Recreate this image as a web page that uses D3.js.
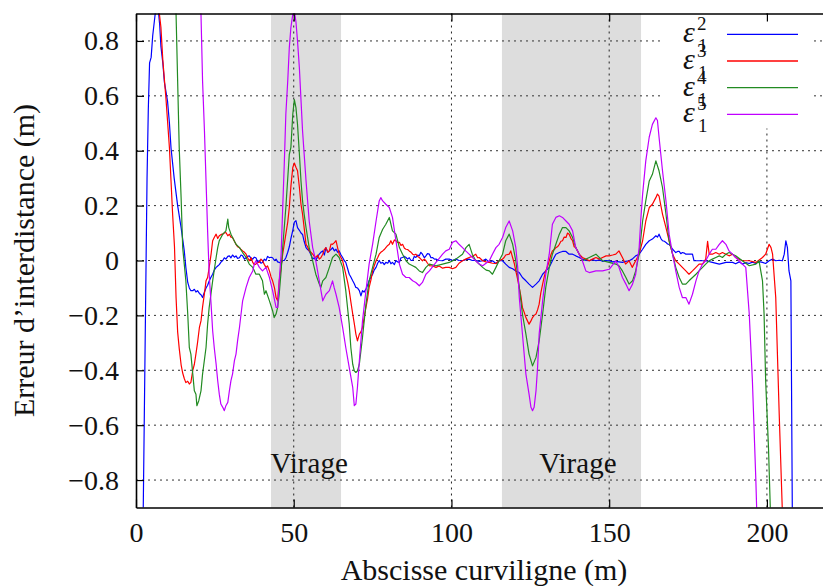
<!DOCTYPE html>
<html>
<head>
<meta charset="utf-8">
<script src="https://cdn.jsdelivr.net/npm/d3@7"></script>
<style>
  body { margin: 0; background: #fff; }
  text { font-family: "Liberation Serif", "DejaVu Serif", serif; fill: #111; }
</style>
</head>
<body>
<div id="chart"></div>
<script>
// abscisse curviligne (m) / erreur d'interdistance (m)
const eps2 = [
  [2.2,-1.0],[2.6,-0.6],[3.0,-0.2],[3.5,0.3],[3.9,0.55],[4.3,0.72],[4.8,0.74],[5.3,0.82],[5.8,0.87],[6.4,0.93],
  [7.0,0.92],[7.5,0.86],[7.9,0.78],[8.5,0.72],[9.0,0.65],[10.0,0.58],[10.6,0.5],[11.1,0.41],[12.1,0.3],[13.2,0.2],
  [14.3,0.12],[15.3,0.035],[15.8,-0.025],[16.4,-0.08],[16.9,-0.1],[17.4,-0.11],[18.0,-0.11],[18.5,-0.105],[19.0,-0.115],
  [19.5,-0.11],[20.1,-0.12],[20.6,-0.125],[21.1,-0.135],[21.7,-0.115],[22.2,-0.1],[22.7,-0.09],[23.2,-0.075],[23.8,-0.06],
  [24.3,-0.05],[24.8,-0.035],[25.4,-0.025],[25.9,-0.02],[26.4,-0.015],[27.0,-0.005],[27.5,0.0],[28.0,0.01],[28.5,0.005],
  [29.1,0.015],[29.6,0.017],[30.1,0.01],[30.6,0.02],[31.2,0.012],[31.7,0.017],[32.2,0.008],[32.8,0.01],[33.3,0.02],
  [33.8,0.017],[34.4,0.005],[34.9,0.01],[35.4,0.015],[35.9,0.017],[36.5,0.008],[37.0,0.005],[37.5,0.012],[38.0,0.01],
  [38.6,-0.005],[39.1,0.0],[39.6,-0.01],[40.1,-0.007],[40.7,0.005],[41.2,0.0],[41.7,0.015],[42.3,0.01],[42.8,0.012],
  [43.3,0.01],[43.9,0.0],[44.4,0.005],[44.9,-0.005],[45.4,-0.007],[46.0,-0.01],[46.5,0.0],[47.0,0.0],[47.5,0.01],
  [48.1,0.03],[48.6,0.05],[49.1,0.08],[49.7,0.11],[50.2,0.14],[50.7,0.145],[51.2,0.12],[51.8,0.11],[52.3,0.1],
  [52.8,0.095],[53.3,0.07],[53.9,0.047],[54.4,0.04],[54.9,0.035],[55.5,0.02],[56.0,0.005],[56.5,0.01],[57.0,0.0],
  [57.6,0.015],[58.1,0.023],[58.6,0.03],[59.2,0.035],[59.7,0.02],[60.2,0.047],[60.8,0.03],[61.3,0.035],[61.8,0.04],
  [62.3,0.047],[62.9,0.035],[63.4,0.041],[63.9,0.03],[64.4,0.035],[65.0,0.02],[65.5,0.011],[66.0,0.0],[66.5,-0.007],
  [67.1,-0.03],[67.6,-0.05],[68.1,-0.06],[68.7,-0.074],[69.2,-0.085],[69.7,-0.098],[70.2,-0.1],[70.8,-0.11],[71.3,-0.129],
  [71.8,-0.11],[72.3,-0.115],[72.9,-0.104],[73.4,-0.09],[73.9,-0.074],[74.5,-0.06],[75.0,-0.05],[75.5,-0.035],[76.1,-0.025],
  [76.6,-0.01],[77.1,0.0],[77.6,-0.01],[78.2,-0.007],[78.7,-0.015],[79.2,-0.007],[79.8,-0.01],[80.3,0.0],[80.8,-0.012],
  [81.3,-0.007],[81.9,-0.015],[82.4,0.0],[82.9,-0.005],[83.5,-0.007],[84.0,0.01],[84.5,0.011],[85.1,0.015],[85.6,0.011],
  [86.1,0.005],[86.6,0.01],[87.2,0.0],[87.7,0.0],[88.2,0.015],[88.7,0.011],[89.3,0.02],[89.8,0.017],[90.3,0.03],
  [90.8,0.023],[91.4,0.01],[91.9,0.017],[92.4,0.025],[93.0,0.023],[93.5,0.01],[94.0,0.011],[94.6,0.005],[95.1,0.005],
  [96.1,0.0],[97.2,-0.001],[98.2,0.005],[99.3,0.005],[100.3,0.0],[101.4,0.005],[102.4,0.0],[103.5,-0.001],[104.5,0.003],
  [105.6,0.005],[106.6,0.0],[107.7,0.001],[108.8,-0.003],[109.9,-0.001],[110.9,0.005],[112.0,-0.007],[113.0,-0.001],
  [114.1,-0.011],[115.1,-0.001],[116.2,-0.001],[117.2,-0.013],[118.3,-0.025],[119.4,-0.03],[120.4,-0.038],[121.5,-0.044],
  [122.5,-0.062],[123.6,-0.074],[124.6,-0.086],[125.7,-0.098],[126.8,-0.086],[127.8,-0.074],[128.9,-0.05],[129.9,-0.038],
  [131.0,-0.025],[132.0,-0.001],[133.1,0.023],[134.2,0.029],[135.2,0.033],[136.3,0.033],[137.3,0.023],[138.4,0.023],
  [139.4,0.017],[140.5,0.011],[141.5,0.005],[142.6,0.0],[143.7,-0.001],[144.7,0.003],[145.8,-0.001],[146.9,0.002],
  [147.9,-0.003],[149.0,0.0],[150.0,-0.001],[151.1,-0.005],[152.1,-0.003],[153.1,-0.005],[154.2,-0.007],[155.2,-0.003],
  [156.3,-0.001],[157.3,0.005],[158.4,0.017],[159.5,0.023],[160.6,0.041],[161.6,0.059],[162.7,0.072],[163.7,0.078],
  [164.8,0.09],[165.3,0.085],[165.8,0.096],[166.4,0.08],[166.9,0.072],[167.5,0.07],[168.0,0.066],[168.5,0.06],
  [169.0,0.059],[169.6,0.05],[170.1,0.041],[170.6,0.035],[171.1,0.029],[171.7,0.033],[172.2,0.033],[172.7,0.025],
  [173.2,0.029],[173.8,0.027],[174.3,0.023],[175.3,0.023],[176.4,0.023],[176.9,-0.001],[178.5,-0.001],[180.6,-0.001],
  [182.7,-0.007],[184.9,-0.013],[187.0,-0.007],[189.1,-0.007],[190.1,-0.012],[191.2,-0.005],[192.2,-0.013],[193.3,-0.008],
  [194.4,-0.011],[195.4,-0.006],[196.5,-0.011],[197.5,-0.004],[198.6,-0.007],[199.6,-0.011],[200.7,-0.001],[201.8,0.005],
  [202.8,-0.001],[203.9,0.001],[204.9,-0.001],[205.5,0.023],[206.0,0.072],[206.5,0.047],[207.0,-0.038],[207.6,-0.074],
  [208.1,-1.0]
];

const eps3 = [
  [6.8,1.0],[7.4,0.9],[7.9,0.85],[8.5,0.73],[9.5,0.59],[10.6,0.41],[11.6,0.17],[12.2,0.05],[12.7,-0.135],[13.2,-0.26],
  [13.7,-0.32],[14.3,-0.38],[14.8,-0.41],[15.3,-0.43],[15.8,-0.445],[16.4,-0.44],[16.9,-0.45],[17.4,-0.444],[18.0,-0.4],
  [18.5,-0.378],[19.0,-0.34],[19.5,-0.3],[20.1,-0.244],[20.6,-0.22],[21.1,-0.17],[21.7,-0.12],[22.2,-0.074],[22.7,-0.062],
  [23.2,-0.025],[23.8,0.023],[24.3,0.072],[24.8,0.084],[25.4,0.096],[25.9,0.08],[26.4,0.09],[27.0,0.095],[27.5,0.096],
  [28.0,0.1],[28.5,0.102],[29.1,0.09],[29.6,0.096],[30.1,0.085],[30.6,0.084],[31.2,0.07],[31.7,0.059],[32.2,0.05],
  [32.8,0.047],[33.3,0.04],[33.8,0.035],[34.4,0.03],[34.9,0.023],[35.4,0.01],[35.9,-0.001],[36.5,0.01],[37.0,-0.007],
  [37.5,-0.015],[38.0,-0.013],[38.6,-0.007],[39.1,-0.007],[39.6,0.005],[40.1,-0.001],[40.7,-0.015],[41.2,-0.025],
  [41.7,-0.02],[42.3,-0.038],[42.8,-0.06],[43.3,-0.074],[43.9,-0.1],[44.4,-0.135],[44.9,-0.147],[45.4,-0.074],
  [46.0,-0.025],[46.5,0.023],[47.0,0.06],[47.5,0.096],[48.1,0.14],[48.6,0.193],[49.1,0.27],[49.7,0.339],[50.2,0.355],
  [50.7,0.34],[51.2,0.327],[51.8,0.266],[52.3,0.205],[52.8,0.169],[53.3,0.12],[53.9,0.059],[54.4,0.05],[54.9,0.035],
  [55.5,0.03],[56.0,0.023],[56.5,0.015],[57.0,0.011],[57.6,0.02],[58.1,0.005],[58.6,0.01],[59.2,0.023],[59.7,0.04],
  [60.2,0.047],[60.8,0.03],[61.3,0.035],[61.8,0.06],[62.3,0.059],[62.9,0.065],[63.4,0.072],[63.9,0.047],[64.4,0.023],
  [65.0,0.01],[65.5,-0.001],[66.0,-0.025],[66.5,-0.05],[67.1,-0.08],[67.6,-0.11],[68.1,-0.15],[68.7,-0.195],[69.2,-0.23],
  [69.7,-0.268],[70.2,-0.293],[70.8,-0.268],[71.3,-0.26],[71.8,-0.244],[72.3,-0.21],[72.9,-0.171],[73.4,-0.14],
  [73.9,-0.098],[74.5,-0.07],[75.0,-0.038],[75.5,-0.02],[76.1,-0.001],[76.6,0.01],[77.1,0.023],[77.6,0.03],[78.2,0.035],
  [78.7,0.04],[79.2,0.047],[79.8,0.055],[80.3,0.059],[80.8,0.072],[81.3,0.059],[81.9,0.075],[82.4,0.072],[82.9,0.066],
  [83.5,0.066],[84.0,0.055],[84.5,0.059],[85.1,0.045],[85.6,0.041],[86.1,0.04],[86.6,0.035],[87.2,0.03],[87.7,0.023],
  [88.2,0.02],[88.7,0.023],[89.3,0.015],[89.8,0.011],[90.3,0.005],[90.8,-0.001],[91.4,0.005],[91.9,-0.001],[92.4,-0.01],
  [93.0,-0.019],[94.0,-0.02],[95.1,-0.025],[96.1,-0.02],[97.2,-0.028],[98.2,-0.025],[99.3,-0.025],[100.3,-0.03],
  [101.4,-0.025],[102.4,-0.01],[103.5,-0.001],[104.5,0.005],[105.6,0.011],[106.6,0.015],[107.7,0.023],[108.3,0.01],
  [108.8,0.011],[109.9,-0.001],[110.9,-0.005],[112.0,-0.007],[113.0,-0.01],[114.1,-0.011],[115.1,-0.001],[116.2,0.005],
  [116.7,0.011],[117.2,0.02],[118.3,0.023],[118.8,0.035],[119.4,0.01],[119.9,-0.01],[120.4,-0.038],[121.0,-0.07],
  [121.5,-0.1],[122.0,-0.13],[122.5,-0.171],[123.1,-0.19],[123.6,-0.208],[124.1,-0.22],[124.6,-0.232],[125.2,-0.22],
  [125.7,-0.208],[126.2,-0.2],[126.8,-0.195],[127.3,-0.18],[127.8,-0.159],[128.3,-0.12],[128.9,-0.086],[129.4,-0.06],
  [129.9,-0.038],[130.5,-0.02],[131.0,-0.001],[131.5,0.02],[132.0,0.035],[132.6,0.04],[133.1,0.047],[133.6,0.05],
  [134.2,0.059],[134.7,0.07],[135.2,0.072],[135.7,0.085],[136.3,0.084],[136.8,0.1],[137.3,0.096],[137.9,0.08],
  [138.4,0.072],[138.9,0.05],[139.4,0.047],[140.0,0.035],[140.5,0.023],[141.5,0.011],[142.6,0.005],[143.7,-0.001],
  [144.7,0.005],[145.8,0.011],[146.9,0.005],[147.9,0.011],[149.0,0.017],[150.0,0.017],[151.1,0.02],[152.1,0.023],
  [153.1,0.035],[154.2,0.011],[155.2,-0.013],[156.3,-0.001],[157.3,-0.025],[158.4,-0.001],[159.5,0.023],[160.6,0.072],
  [161.6,0.144],[162.7,0.193],[163.7,0.205],[164.8,0.229],[165.3,0.242],[165.8,0.235],[166.9,0.169],[168.0,0.12],
  [169.0,0.072],[170.1,0.023],[171.1,-0.001],[172.2,-0.013],[173.2,-0.025],[174.3,-0.038],[175.3,-0.05],[176.4,-0.038],
  [177.5,-0.025],[178.5,-0.013],[179.6,-0.013],[180.6,0.005],[181.2,0.07],[181.7,0.023],[182.7,0.023],[183.8,0.029],
  [184.9,0.023],[185.9,0.029],[187.0,0.023],[188.0,0.017],[189.1,0.023],[190.1,0.011],[192.2,-0.001],[194.4,-0.001],
  [196.5,-0.007],[198.6,0.011],[199.6,0.023],[200.7,0.059],[201.3,0.047],[201.8,0.023],[202.8,-0.135],[203.9,-0.56],
  [205.0,-0.95],[205.5,-1.0]
];

const eps4 = [
  [12.3,1.0],[12.7,0.897],[13.2,0.654],[13.7,0.412],[14.3,0.229],[14.8,0.047],[15.3,-0.013],[15.8,-0.074],[16.4,-0.195],
  [16.9,-0.317],[17.4,-0.341],[18.0,-0.414],[18.5,-0.475],[19.0,-0.487],[19.3,-0.529],[19.9,-0.511],[20.6,-0.475],
  [21.1,-0.414],[22.2,-0.317],[22.7,-0.232],[23.2,-0.171],[24.3,-0.074],[25.4,0.011],[25.9,0.047],[26.4,0.072],
  [27.5,0.096],[28.5,0.108],[29.1,0.151],[29.4,0.12],[30.1,0.096],[30.6,0.084],[31.7,0.059],[32.8,0.047],[33.8,0.029],
  [34.9,0.011],[35.9,-0.013],[37.0,-0.025],[38.0,-0.05],[39.1,-0.05],[40.1,-0.074],[40.7,-0.123],[41.2,-0.11],
  [42.3,-0.147],[43.3,-0.183],[43.8,-0.208],[44.4,-0.195],[44.9,-0.171],[45.4,-0.123],[46.0,-0.038],[46.5,0.047],
  [47.5,0.193],[48.6,0.387],[49.1,0.412],[49.7,0.533],[50.2,0.586],[50.7,0.557],[51.2,0.496],[51.8,0.387],[52.3,0.29],
  [52.8,0.217],[53.3,0.169],[53.9,0.12],[54.9,0.047],[56.0,-0.001],[57.0,-0.05],[58.1,-0.086],[58.6,-0.098],[59.2,-0.074],
  [60.2,-0.062],[61.3,-0.025],[62.3,0.011],[63.4,0.023],[64.4,0.011],[65.5,-0.025],[66.5,-0.11],[67.6,-0.232],
  [68.1,-0.317],[68.7,-0.378],[69.2,-0.402],[69.7,-0.408],[70.2,-0.402],[70.8,-0.378],[71.8,-0.28],[72.9,-0.159],
  [73.9,-0.074],[75.0,-0.025],[76.1,0.023],[77.1,0.084],[78.2,0.114],[79.2,0.132],[80.3,0.157],[81.3,0.108],[82.4,0.096],
  [83.5,0.047],[84.5,0.023],[85.6,-0.001],[86.6,-0.013],[87.7,-0.019],[88.7,-0.025],[89.8,-0.038],[90.8,-0.044],
  [91.9,-0.025],[93.0,-0.013],[95.1,-0.019],[97.2,-0.013],[99.3,-0.007],[101.4,0.005],[103.5,0.023],[104.6,0.047],
  [105.6,0.059],[106.6,0.023],[107.7,-0.001],[109.9,-0.025],[111.0,-0.035],[112.0,-0.038],[113.0,-0.05],[114.1,-0.025],
  [115.1,-0.001],[116.2,0.023],[117.2,0.072],[118.3,0.096],[119.4,0.059],[120.4,-0.001],[121.5,-0.098],[122.5,-0.195],
  [123.6,-0.268],[124.6,-0.341],[125.7,-0.384],[126.8,-0.353],[127.8,-0.293],[128.9,-0.195],[129.9,-0.098],[131.0,-0.025],
  [132.0,0.023],[133.1,0.059],[134.2,0.096],[135.2,0.12],[136.3,0.12],[137.3,0.108],[138.4,0.084],[139.4,0.047],
  [140.5,0.023],[141.5,-0.001],[143.7,0.011],[145.8,0.023],[147.9,-0.001],[150.0,-0.007],[152.1,-0.013],[153.1,-0.019],
  [154.2,-0.038],[155.3,-0.062],[156.3,-0.086],[157.4,-0.074],[158.4,-0.038],[159.5,0.023],[160.6,0.144],[161.6,0.217],
  [162.7,0.29],[163.7,0.314],[164.8,0.363],[165.8,0.327],[166.9,0.266],[168.0,0.169],[169.0,0.072],[170.1,0.023],
  [171.1,-0.025],[172.2,-0.062],[173.2,-0.086],[174.3,-0.086],[175.3,-0.074],[176.4,-0.062],[177.5,-0.05],[178.5,-0.038],
  [179.6,-0.025],[180.6,-0.013],[181.7,-0.001],[182.7,0.005],[183.8,0.011],[184.9,0.017],[185.9,0.011],[187.0,0.023],
  [188.0,0.029],[189.1,0.023],[190.1,0.017],[192.2,-0.001],[194.4,-0.019],[196.5,-0.013],[197.5,-0.001],[198.6,-0.074],
  [199.1,-0.195],[199.6,-0.438],[200.5,-0.681],[201.2,-0.95],[201.5,-1.0]
];

const eps5 = [
  [19.9,1.1],[20.6,0.897],[21.1,0.654],[21.7,0.472],[22.2,0.29],[22.7,0.108],[23.2,-0.05],[23.8,-0.159],[24.3,-0.256],
  [24.8,-0.317],[25.4,-0.378],[25.9,-0.438],[26.4,-0.487],[26.9,-0.523],[27.5,-0.535],[28.0,-0.547],[28.5,-0.529],
  [29.1,-0.517],[29.6,-0.475],[30.1,-0.438],[30.6,-0.414],[31.2,-0.365],[31.7,-0.341],[32.2,-0.293],[32.8,-0.244],
  [33.3,-0.195],[33.8,-0.147],[34.9,-0.098],[35.9,-0.062],[37.0,-0.038],[37.5,-0.013],[38.0,-0.001],[39.1,-0.025],
  [40.1,-0.038],[41.2,-0.025],[42.3,-0.062],[43.3,-0.11],[44.4,-0.171],[44.9,-0.171],[45.4,-0.074],[46.0,0.023],
  [46.5,0.19],[47.0,0.351],[47.5,0.533],[48.1,0.654],[48.6,0.776],[49.1,0.849],[49.7,0.897],[50.2,0.91],[50.7,0.87],
  [51.2,0.8],[51.8,0.7],[52.8,0.472],[53.9,0.29],[54.9,0.144],[56.0,0.047],[57.0,-0.001],[58.1,-0.074],[59.2,-0.147],
  [59.7,-0.135],[60.2,-0.123],[61.3,-0.11],[62.3,-0.074],[62.8,-0.098],[63.4,-0.123],[64.4,-0.171],[65.5,-0.244],
  [66.5,-0.317],[67.6,-0.39],[68.7,-0.462],[69.2,-0.529],[69.7,-0.523],[70.2,-0.462],[70.8,-0.365],[71.8,-0.22],
  [72.9,-0.11],[73.9,-0.013],[75.0,0.059],[76.1,0.144],[77.1,0.217],[77.6,0.229],[78.2,0.217],[79.2,0.205],[80.3,0.193],
  [81.3,0.157],[82.4,0.072],[83.5,-0.013],[84.5,-0.05],[85.6,-0.062],[86.6,-0.062],[87.7,-0.074],[88.7,-0.08],
  [89.8,-0.092],[90.8,-0.08],[91.9,-0.05],[93.0,-0.038],[95.1,-0.007],[97.2,0.023],[98.2,0.035],[99.3,0.041],
  [100.3,0.066],[101.4,0.072],[102.4,0.059],[103.5,0.047],[104.5,0.035],[105.6,0.023],[107.7,-0.001],[108.8,-0.013],
  [109.9,-0.019],[112.0,-0.001],[113.0,0.023],[114.1,0.047],[115.1,0.059],[116.2,0.084],[117.2,0.12],[118.3,0.144],
  [119.4,0.108],[120.4,0.047],[121.0,-0.025],[121.5,-0.135],[122.5,-0.268],[123.6,-0.414],[124.6,-0.487],[125.2,-0.535],
  [125.7,-0.547],[126.2,-0.535],[126.8,-0.475],[127.3,-0.39],[127.8,-0.268],[128.9,-0.147],[129.9,-0.05],[131.0,0.023],
  [132.0,0.132],[133.1,0.157],[134.2,0.163],[135.2,0.157],[136.3,0.144],[137.3,0.132],[138.4,0.108],[139.4,0.047],
  [140.5,0.023],[141.5,-0.001],[142.6,-0.038],[143.7,-0.044],[145.8,-0.038],[147.9,-0.038],[150.0,-0.032],[152.1,-0.001],
  [153.1,-0.025],[154.2,-0.062],[155.3,-0.086],[156.3,-0.11],[157.4,-0.086],[158.4,-0.05],[159.5,0.047],[160.0,0.144],
  [160.6,0.242],[161.6,0.363],[162.7,0.45],[163.7,0.496],[164.8,0.52],[165.3,0.51],[165.8,0.45],[166.9,0.327],
  [168.0,0.217],[169.0,0.096],[170.1,0.023],[171.1,-0.038],[172.2,-0.098],[173.2,-0.135],[174.3,-0.135],[175.3,-0.159],
  [176.4,-0.123],[177.5,-0.074],[178.5,-0.038],[179.6,-0.013],[180.6,-0.001],[181.7,0.023],[182.7,0.041],[183.8,0.041],
  [184.9,0.059],[185.9,0.072],[187.0,0.059],[188.0,0.035],[189.1,0.023],[190.1,0.011],[191.2,-0.001],[192.2,-0.013],
  [193.3,-0.025],[194.4,-0.195],[195.4,-0.438],[196.5,-0.803],[197.0,-1.0]
];

const seriesKeys = ["2", "3", "4", "5"];
const seriesColors = ["#0000ff", "#ff0000", "#228b22", "#c000ff"];
const virages = [[42.8, 65.0], [116.0, 160.1]];
const virageLabelX = [54.9, 140.1];
const xTicks = [0, 50, 100, 150, 200];
const yTicks = [-0.8, -0.6, -0.4, -0.2, 0, 0.2, 0.4, 0.6, 0.8];

const W = 823, H = 586;
const mLeft = 136, mRight = 830, mTop = 13.5, mBottom = 507.5;

const svg = d3.select("#chart").append("svg")
  .attr("width", W)
  .attr("height", H);

svg.append("rect").attr("width", W).attr("height", H).attr("fill", "#fff");

const x = d3.scaleLinear().domain([0, 220]).range([mLeft, mRight]);
const y = d3.scaleLinear().domain([-0.9, 0.9]).range([mBottom, mTop]);

svg.append("clipPath").attr("id", "plot")
  .append("rect")
  .attr("x", mLeft).attr("y", mTop)
  .attr("width", mRight - mLeft).attr("height", mBottom - mTop);

// zones de virage
svg.selectAll(".virage")
  .data(virages)
  .enter()
  .append("rect")
  .attr("class", "virage")
  .attr("x", d => x(d[0]))
  .attr("y", mTop)
  .attr("width", d => x(d[1]) - x(d[0]))
  .attr("height", mBottom - mTop)
  .attr("fill", "#dddddd");

// grille
svg.selectAll(".hgrid")
  .data(yTicks)
  .enter()
  .append("line")
  .attr("x1", mLeft).attr("x2", mRight)
  .attr("y1", d => y(d)).attr("y2", d => y(d))
  .attr("stroke", "#333")
  .attr("stroke-width", 1)
  .attr("stroke-dasharray", "2,4");

svg.selectAll(".vgrid")
  .data(xTicks.filter(d => d > 0))
  .enter()
  .append("line")
  .attr("x1", d => x(d)).attr("x2", d => x(d))
  .attr("y1", mTop).attr("y2", mBottom)
  .attr("stroke", "#222")
  .attr("stroke-width", 1)
  .attr("stroke-dasharray", "2,4");

// fond de la legende
svg.append("rect")
  .attr("x", 660).attr("y", mTop + 1)
  .attr("width", 153).attr("height", 114)
  .attr("fill", "#fff");

svg.selectAll(".virage-label")
  .data(virageLabelX)
  .enter()
  .append("text")
  .attr("x", d => x(d))
  .attr("y", y(-0.775))
  .attr("text-anchor", "middle")
  .attr("font-size", 29)
  .text("Virage");

const line = d3.line()
  .x(d => x(d[0]))
  .y(d => y(d[1]));

const allSeries = [eps2, eps3, eps4, eps5];

svg.append("g")
  .attr("clip-path", "url(#plot)")
  .selectAll("path")
  .data(allSeries)
  .enter()
  .append("path")
  .attr("d", line)
  .attr("fill", "none")
  .attr("stroke", (d, i) => seriesColors[i])
  .attr("stroke-width", 1.2)
  .attr("stroke-linejoin", "round");

// axes
const fmt = d => d === 0 ? "0" : d3.format(".1f")(d);

const xAxis = svg.append("g")
  .attr("transform", `translate(0,${mBottom})`)
  .call(d3.axisBottom(x).tickValues(xTicks).tickSizeInner(-8).tickSizeOuter(0).tickPadding(15).tickFormat(d3.format("d")));

const xTop = svg.append("g")
  .attr("transform", `translate(0,${mTop})`)
  .call(d3.axisTop(x).tickValues(xTicks).tickSizeInner(-8).tickSizeOuter(0).tickFormat(""));

const yAxis = svg.append("g")
  .attr("transform", `translate(${mLeft},0)`)
  .call(d3.axisLeft(y).tickValues(yTicks).tickSizeInner(-8).tickSizeOuter(0).tickPadding(17).tickFormat(fmt));

[xAxis, xTop, yAxis].forEach(g => {
  g.select(".domain").attr("stroke", "#000").attr("stroke-width", 1.6);
  g.selectAll(".tick line").attr("stroke", "#000").attr("stroke-width", 1.2);
  g.selectAll("text")
    .attr("font-family", "Liberation Serif, DejaVu Serif, serif")
    .attr("font-size", 28)
    .attr("fill", "#111");
});

svg.append("text")
  .attr("x", (mLeft + 832) / 2)
  .attr("y", 580)
  .attr("text-anchor", "middle")
  .attr("font-size", 30)
  .text("Abscisse curviligne (m)");

svg.append("text")
  .attr("transform", `translate(34,${(mTop + mBottom) / 2}) rotate(-90)`)
  .attr("text-anchor", "middle")
  .attr("font-size", 30)
  .text("Erreur d\u2019interdistance (m)");

// legende
const legend = svg.selectAll(".leg")
  .data(seriesKeys)
  .enter()
  .append("g")
  .attr("transform", (d, i) => `translate(0,${34.3 + 26.7 * i})`);

legend.append("line")
  .attr("x1", 727).attr("x2", 798)
  .attr("y1", 0).attr("y2", 0)
  .attr("stroke", (d, i) => seriesColors[i])
  .attr("stroke-width", 1.3);

legend.append("text")
  .attr("x", 683).attr("y", 8)
  .attr("font-size", 30)
  .attr("font-style", "italic")
  .text("\u03b5");

legend.append("text")
  .attr("x", 697).attr("y", -4)
  .attr("font-size", 19)
  .text(d => d);

legend.append("text")
  .attr("x", 698).attr("y", 18)
  .attr("font-size", 19)
  .text("1");
</script>
</body>
</html>
